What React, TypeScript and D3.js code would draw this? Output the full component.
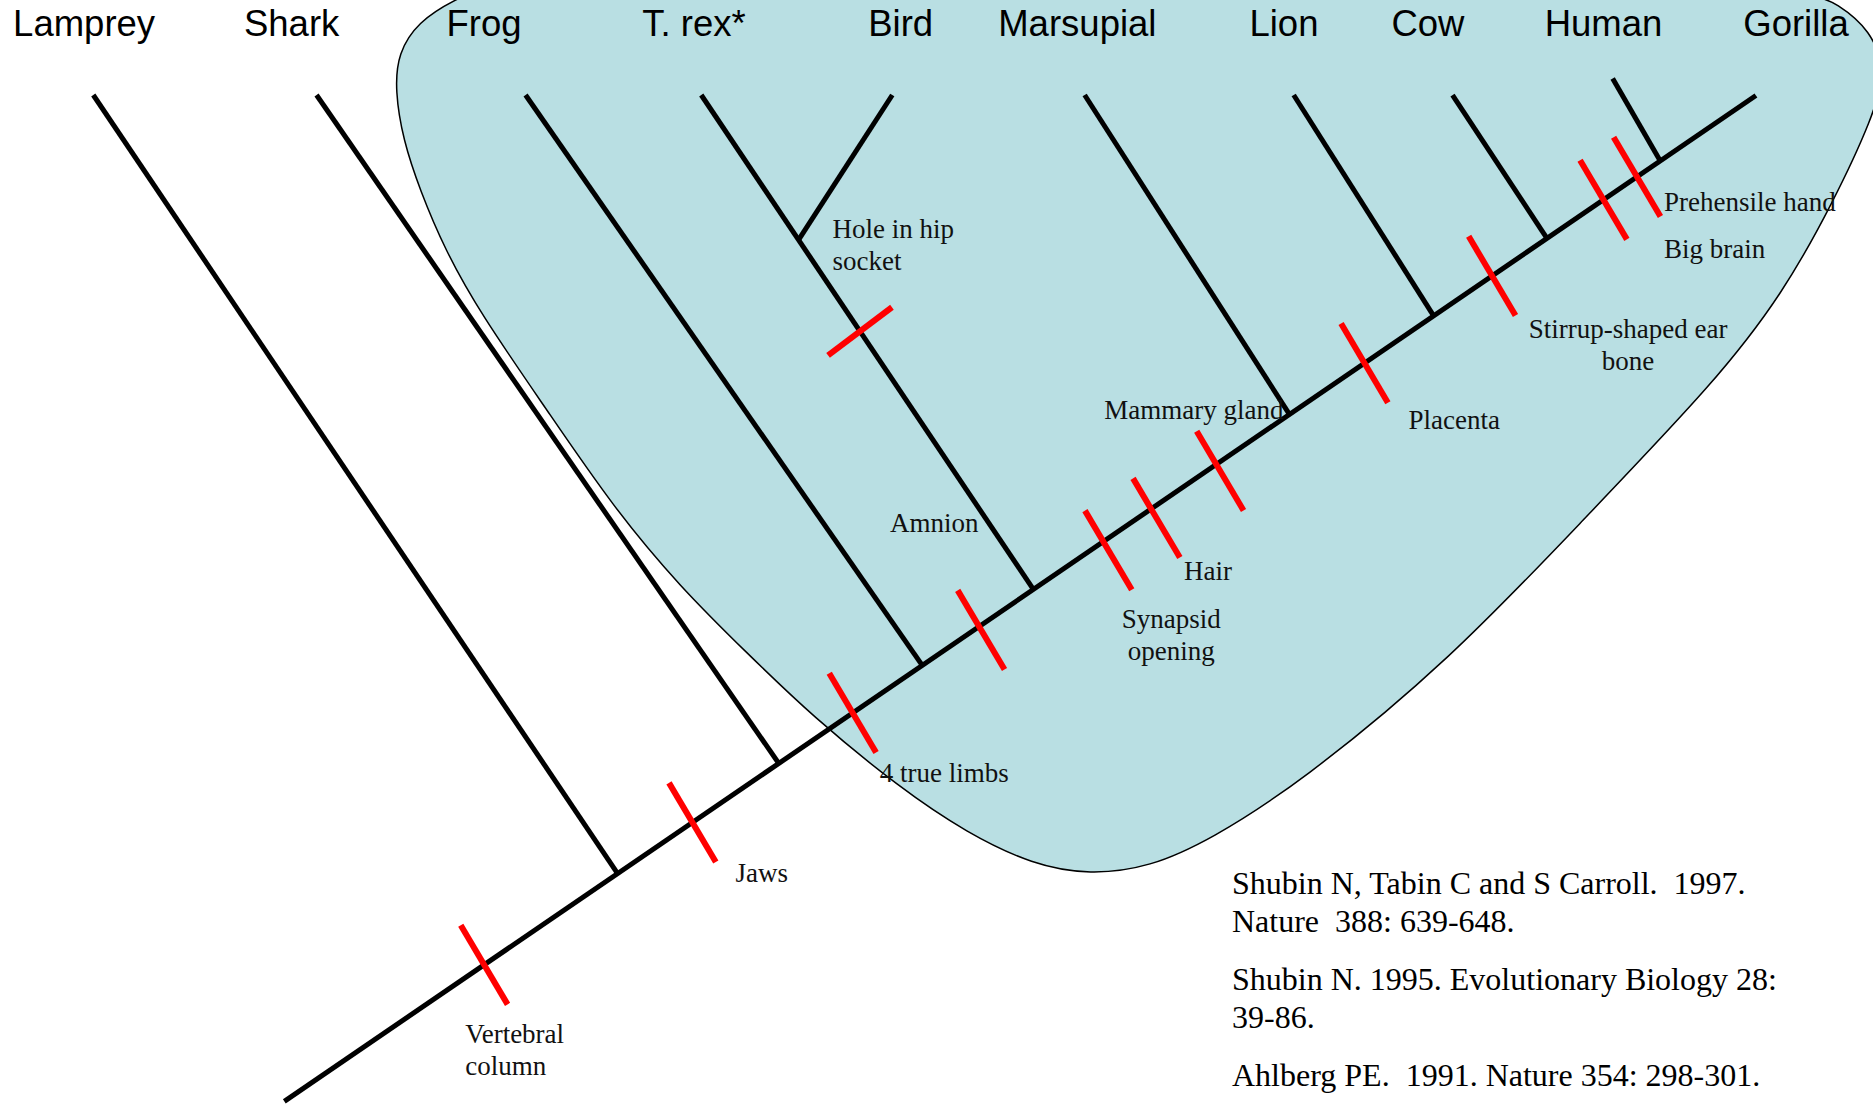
import React from "react";
import * as d3 from "d3";

const W = 1873;
const H = 1106;

// taxa along the top, left to right (positions in % of the chart width / height)
const taxa = ["Lamprey", "Shark", "Frog", "T. rex*", "Bird", "Marsupial", "Lion", "Cow", "Human", "Gorilla"];
const taxonLabelX = [4.49, 15.57, 25.84, 37.05, 48.09, 57.52, 68.55, 76.24, 85.61, 95.89];
const tipX = [4.98, 16.9, 28.06, 37.44, 47.64, 57.91, 69.07, 77.55, 86.1, 93.75];
const tipY = [8.59, 8.59, 8.59, 8.59, 8.59, 8.59, 8.59, 8.59, 7.1, 8.64];
// where each lineage leaves the trunk (0 = root, 100 = Gorilla tip); Bird leaves the T. rex branch
const splitAt = [22.65, 33.6, 43.35, 50.9, null, 68.3, 78.1, 85.8, 93.5, 100];
const birdSplit = 70.7; // % of the way up the T. rex branch

// shared derived characters, placed along the trunk
const traits = [
  "Vertebral column",
  "Jaws",
  "4 true limbs",
  "Amnion",
  "Synapsid opening",
  "Hair",
  "Mammary gland",
  "Placenta",
  "Stirrup-shaped ear bone",
  "Big brain",
  "Prehensile hand",
];
const traitAt = [13.58, 27.73, 38.62, 47.21, 55.65, 58.9, 63.33, 73.4, 82.07, 89.64, 91.92];
const hipTrait = "Hole in hip socket";
const hipAt = 52.2; // % up the T. rex branch

// outline of the shaded tetrapod group (% of width / height)
const tetrapodHull: [number, number][] = [
  [24.19, 0], [22.32, 1.99], [21.25, 4.79], [21.09, 8.14], [21.52, 12.66], [22.42, 17.18],
  [23.76, 22.6], [25.63, 28.3], [29.2, 37.07], [32.73, 45.84], [36.31, 53.07], [39.88, 59.04],
  [43.41, 64.83], [48.05, 71.25], [51.63, 75.32], [55.15, 78.2], [58.2, 79.1], [61.4, 78.4],
  [64.6, 75.95], [69.41, 70.8], [77.42, 59.67], [84.52, 47.02], [91.67, 34.36], [95.2, 26.49],
  [97.86, 18.35], [100, 10.58], [100.69, 6.33], [99.84, 2.71], [98.24, 0.45], [96.1, -1.36],
  [64.07, -3.62], [26.7, -1.81],
];

const references = [
  ["Shubin N, Tabin C and S Carroll.  1997.", "Nature  388: 639-648."],
  ["Shubin N. 1995. Evolutionary Biology 28:", "39-86."],
  ["Ahlberg PE.  1991. Nature 354: 298-301."],
];

// where each trait label sits relative to its tick; shift = how far the tick hangs below the trunk
const traitLabels: Record<string, { lines: string[]; dx: number; dy: number; anchor?: string; shift?: number }> = {
  "Vertebral column": { lines: ["Vertebral", "column"], dx: -19, dy: 78 },
  Jaws: { lines: ["Jaws"], dx: 43, dy: 60 },
  "4 true limbs": { lines: ["4 true limbs"], dx: 27, dy: 69.5 },
  Amnion: { lines: ["Amnion"], dx: -89, dy: -95, shift: 4 },
  "Synapsid opening": { lines: ["Synapsid", "opening"], dx: 68, dy: 86, anchor: "middle", shift: 10 },
  Hair: { lines: ["Hair"], dx: 33, dy: 71, shift: 10.5 },
  "Mammary gland": { lines: ["Mammary gland"], dx: -112, dy: -45, shift: 7.5 },
  Placenta: { lines: ["Placenta"], dx: 44, dy: 66 },
  "Stirrup-shaped ear bone": { lines: ["Stirrup-shaped ear", "bone"], dx: 136, dy: 62, anchor: "middle" },
  "Big brain": { lines: ["Big brain"], dx: 60.5, dy: 58 },
  "Prehensile hand": { lines: ["Prehensile hand"], dx: 27, dy: 34.5 },
};

const serif = "'Liberation Serif', 'Times New Roman', serif";
const sans = "'Liberation Sans', Arial, Helvetica, sans-serif";

export default function App() {
  const x = d3.scaleLinear().domain([0, 100]).range([0, W]);
  const y = d3.scaleLinear().domain([0, 100]).range([0, H]);

  // trunk runs from the root (0) to the Gorilla tip (100)
  const trunkX = d3.scaleLinear().domain([0, 100]).range([x(15.18), x(93.75)]);
  const trunkY = d3.scaleLinear().domain([0, 100]).range([y(99.58), y(8.64)]);
  const onTrunk = (t: number): [number, number] => [trunkX(t), trunkY(t)];

  const line = d3.line();
  const hull = d3
    .line<[number, number]>()
    .x((d) => x(d[0]))
    .y((d) => y(d[1]))
    .curve(d3.curveBasisClosed);

  const branches: [number, number][][] = [];
  taxa.forEach((name, i) => {
    const s = splitAt[i];
    if (s === null || s >= 100) return;
    branches.push([onTrunk(s), [x(tipX[i]), y(tipY[i])]]);
  });
  // T. rex branch, Bird joins part way up
  const trexIdx = taxa.indexOf("T. rex*");
  const birdIdx = taxa.indexOf("Bird");
  const trexLine = d3.interpolateArray(onTrunk(splitAt[trexIdx] as number), [x(tipX[trexIdx]), y(tipY[trexIdx])]);
  const birdBase = trexLine(birdSplit / 100) as number[];
  branches.push([[birdBase[0], birdBase[1]], [x(tipX[birdIdx]), y(tipY[birdIdx])]]);

  // red tick marks across the trunk
  const ang = (59.4 * Math.PI) / 180;
  const half = 46;
  const ux = Math.cos(ang);
  const uy = Math.sin(ang);

  const hipC = trexLine(hipAt / 100) as number[];
  const hipAng = (-37 * Math.PI) / 180;
  const hipHalf = 40;

  return (
    <svg
      width={W}
      height={H}
      style={{ position: "absolute", left: 0, top: 0, display: "block", background: "#fff" }}
    >
      <path d={hull(tetrapodHull) || ""} fill="#b9dfe3" stroke="#000" strokeWidth={1.5} />

      {/* trunk and branches */}
      <path d={line([onTrunk(0), onTrunk(100)]) || ""} stroke="#000" strokeWidth={5} fill="none" />
      {branches.map((b, i) => (
        <path key={"b" + i} d={line(b) || ""} stroke="#000" strokeWidth={5} fill="none" />
      ))}

      {/* character ticks */}
      {traits.map((t, i) => {
        const [px, py] = onTrunk(traitAt[i]);
        const s = traitLabels[t].shift || 0;
        const cx = px + ux * s;
        const cy = py + uy * s;
        return (
          <path
            key={"tick" + t}
            d={line([[cx - ux * half, cy - uy * half], [cx + ux * half, cy + uy * half]]) || ""}
            stroke="#ff0000"
            strokeWidth={6}
          />
        );
      })}
      <path
        d={
          line([
            [hipC[0] - Math.cos(hipAng) * hipHalf, hipC[1] - Math.sin(hipAng) * hipHalf],
            [hipC[0] + Math.cos(hipAng) * hipHalf, hipC[1] + Math.sin(hipAng) * hipHalf],
          ]) || ""
        }
        stroke="#ff0000"
        strokeWidth={6}
      />

      {/* taxon names */}
      {taxa.map((t, i) => (
        <text key={"tx" + t} x={x(taxonLabelX[i])} y={36} textAnchor="middle" fontFamily={sans} fontSize={36.5} fill="#000">
          {t}
        </text>
      ))}

      {/* trait labels */}
      {traits.map((t, i) => {
        const [cx, cy] = onTrunk(traitAt[i]);
        const lab = traitLabels[t];
        return (
          <text
            key={"lab" + t}
            x={cx + lab.dx}
            y={cy + lab.dy}
            textAnchor={lab.anchor || "start"}
            fontFamily={serif}
            fontSize={27}
            fill="#111"
          >
            {lab.lines.map((l, j) => (
              <tspan key={j} x={cx + lab.dx} dy={j === 0 ? 0 : 32}>
                {l}
              </tspan>
            ))}
          </text>
        );
      })}
      <text x={hipC[0] - 27.5} y={hipC[1] - 93} fontFamily={serif} fontSize={27} fill="#111">
        {["Hole in hip", "socket"].map((l, j) => (
          <tspan key={j} x={hipC[0] - 27.5} dy={j === 0 ? 0 : 32}>
            {l}
          </tspan>
        ))}
        <title>{hipTrait}</title>
      </text>

      {/* references */}
      {references.map((ref, i) => (
        <text
          key={"ref" + i}
          x={1232}
          y={[894, 990, 1086][i]}
          fontFamily={serif}
          fontSize={32}
          fill="#000"
          style={{ whiteSpace: "pre" }}
        >
          {ref.map((l, j) => (
            <tspan key={j} x={1232} dy={j === 0 ? 0 : 38}>
              {l}
            </tspan>
          ))}
        </text>
      ))}
    </svg>
  );
}
